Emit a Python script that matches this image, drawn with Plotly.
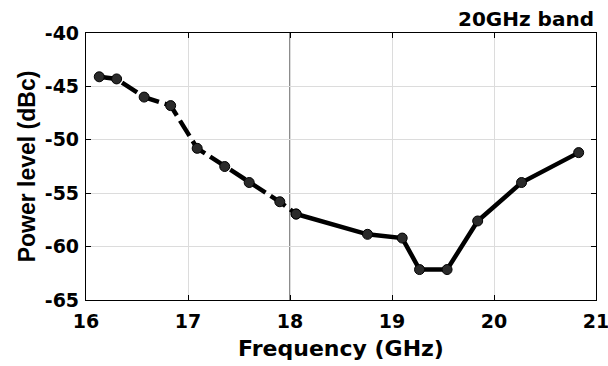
import plotly.graph_objects as go

freq_dashed = [16.13, 16.30, 16.57, 16.83, 17.09, 17.36, 17.60, 17.90, 18.06]
power_dashed = [-44.1, -44.3, -46.0, -46.8, -50.8, -52.5, -54.0, -55.8, -56.95]
freq_solid = [18.06, 18.76, 19.10, 19.27, 19.54, 19.84, 20.27, 20.83]
power_solid = [-56.95, -58.85, -59.2, -62.15, -62.15, -57.6, -54.0, -51.2]

x_ticks = [16, 17, 18, 19, 20, 21]
x_tick_labels = ["16", "17", "18", "19", "20", "21"]
y_ticks = [-65, -60, -55, -50, -45, -40]
y_tick_labels = ["-65", "-60", "-55", "-50", "-45", "-40"]
band_label = "20GHz band"

wide = "DejaVu Sans, Liberation Sans, sans-serif"
narrow = "Liberation Sans, Arial, sans-serif"

marker = dict(symbol="circle", size=10, color="#2a2a2a", line=dict(color="black", width=1))

fig = go.Figure()
fig.add_trace(go.Scatter(
    x=freq_dashed, y=power_dashed, mode="lines+markers",
    line=dict(color="black", width=4.5, dash="18px,6px"),
    marker=marker, showlegend=False))
fig.add_trace(go.Scatter(
    x=freq_solid, y=power_solid, mode="lines+markers",
    line=dict(color="black", width=4.5),
    marker=marker, showlegend=False))

fig.add_shape(type="line", x0=18, x1=18, y0=0, y1=1, xref="x", yref="paper",
              line=dict(color="#666666", width=1.5), layer="below")

fig.add_annotation(text=band_label, xref="paper", yref="paper",
                   x=1.0, y=1.0, xanchor="right", yanchor="bottom", showarrow=False,
                   font=dict(family=wide, size=20, color="black", weight="bold"), yshift=0)

axis_common = dict(showline=True, linecolor="black", linewidth=1.2, mirror="ticks",
                   ticks="inside", ticklen=5, tickcolor="black",
                   showgrid=True, gridcolor="#dcdcdc", gridwidth=1, zeroline=False,
                   ticklabeloverflow="allow", automargin=False,
                   tickfont=dict(family=wide, size=19, color="black", weight="bold"))

fig.update_layout(
    width=608, height=366,
    margin=dict(l=86, r=12, t=33, b=66, autoexpand=False),
    paper_bgcolor="white", plot_bgcolor="white",
    xaxis=dict(range=[16, 21], tickvals=x_ticks, ticktext=x_tick_labels, ticklabelstandoff=4,
               title=dict(text="Frequency (GHz)",
                          font=dict(family=wide, size=22, color="black", weight="bold"), standoff=9),
               **axis_common),
    yaxis=dict(range=[-65, -40], tickvals=y_ticks, ticktext=y_tick_labels, ticklabelstandoff=2,
               title=dict(text="Power level (dBc)",
                          font=dict(family=narrow, size=23, color="black", weight="bold"), standoff=2),
               **axis_common),
)

fig.write_html("out.html", config={"displayModeBar": False},
               post_script="document.body.style.margin='0';document.body.style.overflow='hidden';")
